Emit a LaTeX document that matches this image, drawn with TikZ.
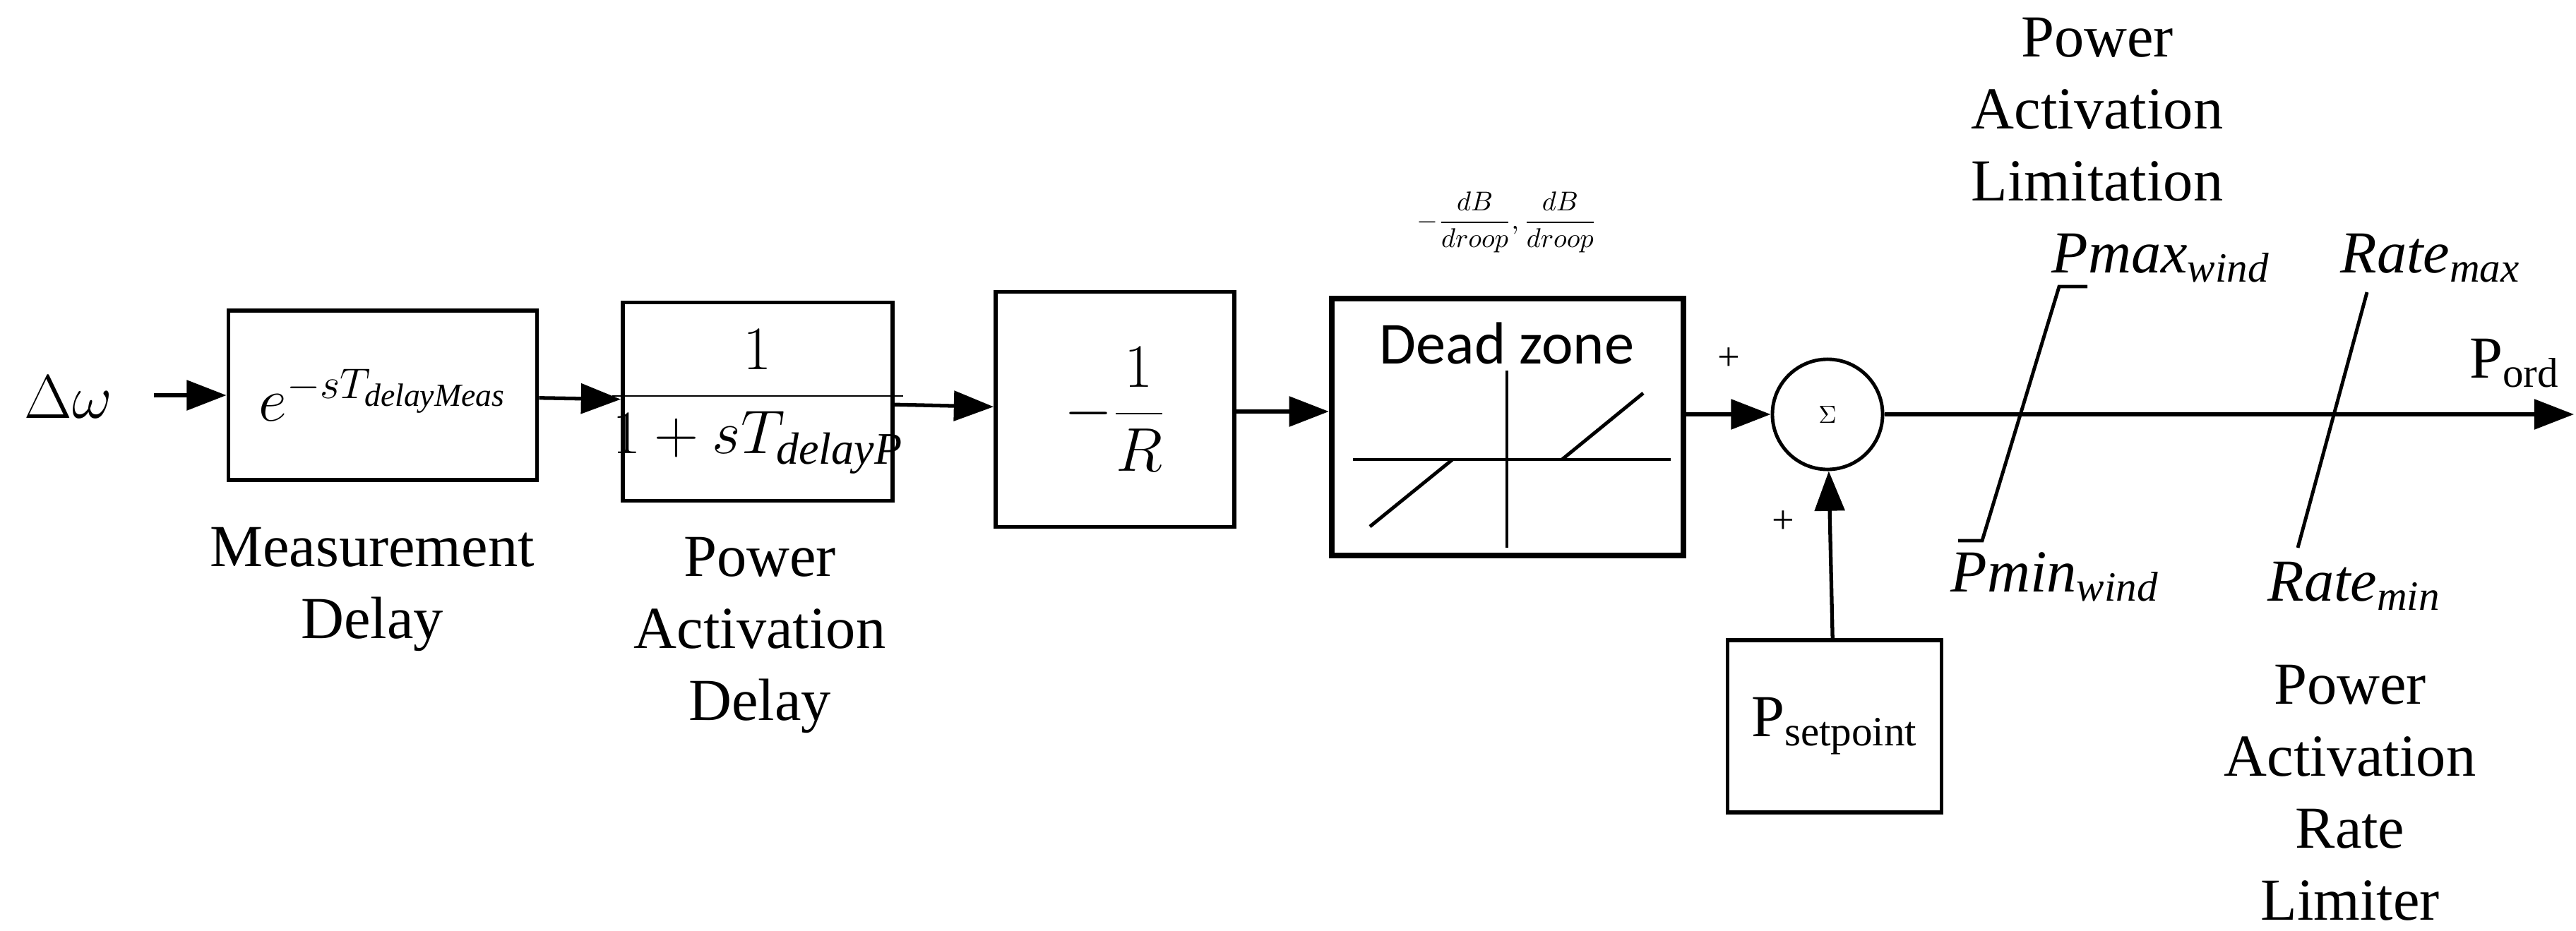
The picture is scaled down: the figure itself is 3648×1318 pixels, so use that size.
\documentclass[tikz,border=0pt]{standalone}
\usepackage{fontspec}
\setmainfont{Liberation Serif}
\newfontfamily\carl{Carlito}
\usetikzlibrary{arrows.meta}
\begin{document}
\begin{tikzpicture}[x=0.01cm,y=-0.01cm,
  blk/.style={draw,line width=1.6pt,inner sep=0pt},
  lab/.style={align=center,font=\fontsize{24}{29}\selectfont},
  sig/.style={line width=1.5pt,-{Triangle[length=16pt,width=12pt]}},
  thin/.style={line width=1.4pt}]
\useasboundingbox (0,0) rectangle (3648,1318);
\node[lab,font=\fontsize{30}{36}\selectfont] (dw) at (97,563) {$\Delta\omega$};
\node[blk,minimum width=4.37cm,minimum height=2.40cm] (b1) at (542,560) {};
\node (b1t) at (542,560) {\carl\fontsize{26}{30}\selectfont $e^{-sT_{\mathit{delayMeas}}}$};
\node[blk,minimum width=3.82cm,minimum height=2.81cm] (b2) at (1073,569) {};
\node (b2t) at (1073,569) {\fontsize{26}{30}\selectfont $\displaystyle\frac{1}{1+sT_{\mathit{delayP}}}$};
\node[blk,minimum width=3.38cm,minimum height=3.33cm] (b3) at (1579,580) {};
\node (b3t) at (1579,580) {\fontsize{30}{34}\selectfont $\displaystyle-\frac{1}{R}$};
\node[draw,line width=2.3pt,minimum width=4.98cm,minimum height=3.64cm] (dz) at (2135,605) {};
\node (dzt) at (2134,487) {\carl\fontsize{24}{28}\selectfont Dead zone};
\node (dzf) at (2134,315) {\fontsize{11}{13}\selectfont $-\displaystyle\frac{dB}{droop},\frac{dB}{droop}$};
\draw[thin] (1916,651) -- (2366,651);
\draw[thin] (2134,525) -- (2134,776);
\draw[thin] (1940,746) -- (2057,651);
\draw[thin] (2212,651) -- (2327,557);
\node[draw,circle,line width=1.4pt,minimum size=1.56cm,inner sep=0pt] (sum) at (2588,587) {$\Sigma$};
\node[blk,minimum width=3.03cm,minimum height=2.44cm] (ps) at (2598,1029) {\fontsize{24}{28}\selectfont P\textsubscript{setpoint}};
\coordinate (in) at (218,560);
\coordinate (out) at (3645,587);
\draw[sig] (in) -- (b1);
\draw[sig] (b1) -- (b2);
\draw[sig] (b2) -- (b3);
\draw[sig] (b3.east |- 0,583) -- (dz.west |- 0,583);
\draw[sig] (dz.east |- sum) -- (sum);
\draw[sig] (sum) -- (out);
\draw[sig] (ps) -- (sum);
\node[font=\fontsize{16}{18}\selectfont] (p1) at (2448,509) {+};
\node[font=\fontsize{16}{18}\selectfont] (p2) at (2525,740) {+};
% limiters
\coordinate (lt) at (2916,406); \coordinate (lb) at (2807,766);
\coordinate (lt2) at (2956,406); \coordinate (lb2) at (2773,766);
\draw[thin] (lt2) -- (lt) -- (lb) -- (lb2);
\coordinate (rt) at (3352,414); \coordinate (rb) at (3254,776);
\draw[thin] (rt) -- (rb);
\node[lab] (pal) at (2970,155) {Power\\Activation\\Limitation};
\node[lab] (pmax) at (3060,366) {\textit{Pmax}\textsubscript{\textit{wind}}};
\node[lab] (pmin) at (2910,817) {\textit{Pmin}\textsubscript{\textit{wind}}};
\node[lab] (rmax) at (3442,366) {\textit{Rate}\textsubscript{\textit{max}}};
\node[lab] (rmin) at (3334,830) {\textit{Rate}\textsubscript{\textit{min}}};
\node[lab] (pord) at (3561,515) {P\textsubscript{ord}};
\node[lab] (parl) at (3328,1123) {Power\\Activation\\Rate\\Limiter};
\node[lab] (md) at (527,835) {Measurement\\Delay};
\node[lab] (pad) at (1076,900) {Power\\Activation\\Delay};
\end{tikzpicture}
\end{document}
